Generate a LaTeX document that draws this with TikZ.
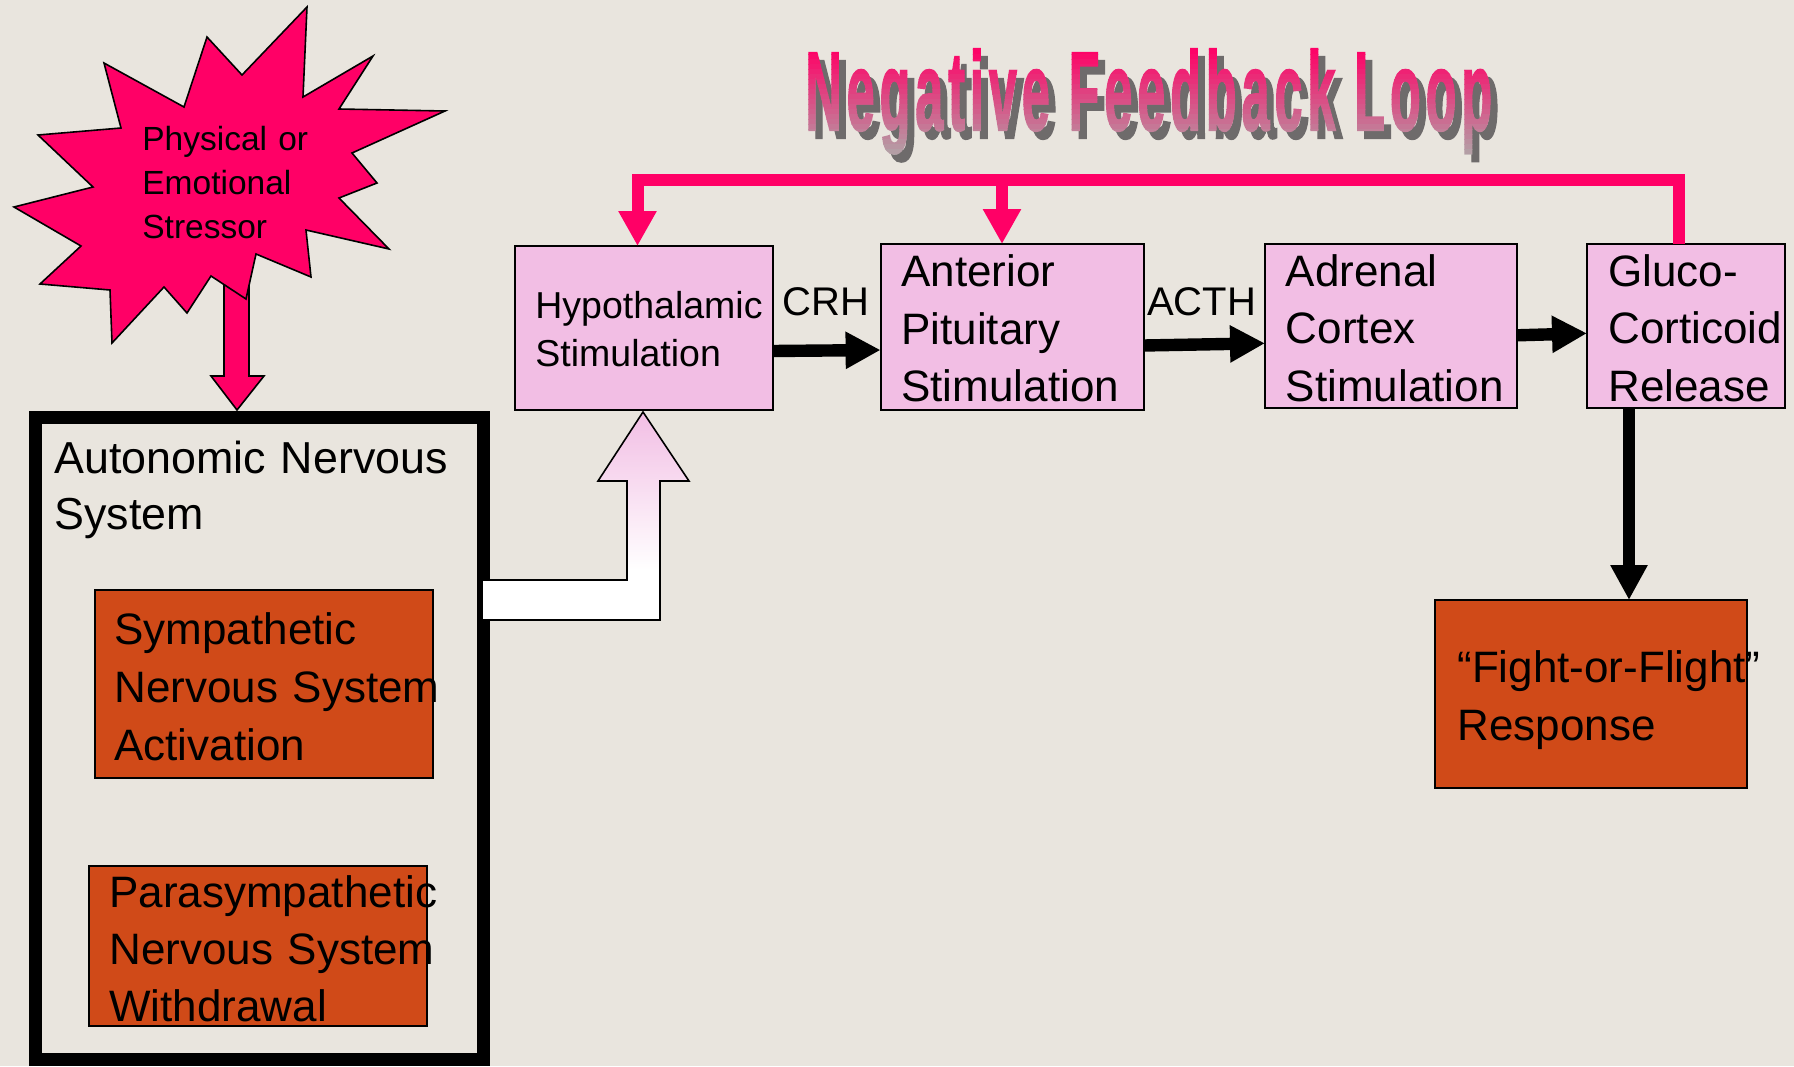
\documentclass[tikz,border=0pt]{standalone}
\usepackage{fontspec}
\setmainfont{Liberation Sans}
\newfontfamily\titlefont[FakeBold=2,LetterSpace=10]{Liberation Sans Bold}
\usepackage{graphicx}
\usetikzlibrary{arrows.meta}

\definecolor{bg}{HTML}{E9E5DE}
\definecolor{hotpink}{HTML}{FF0066}
\definecolor{boxpink}{HTML}{F2BEE4}
\definecolor{rust}{HTML}{D04A18}
\definecolor{shadowgray}{HTML}{6E6B6B}
\definecolor{fadegray}{HTML}{AEAAAA}

\newcommand{\titlestring}{\scalebox{0.449}[1]{Negative Feedback Loop}}

\tikzset{
  plainbox/.style={draw=black, line width=1pt, inner sep=0pt, outer sep=0pt},
  pinkbox/.style={plainbox, fill=boxpink},
  rustbox/.style={plainbox, fill=rust},
  txt/.style={inner sep=0pt, anchor=base west, text width=400pt, align=left},
  bodytext/.style={txt, font=\fontsize{22pt}{28.75pt}\selectfont},
  hormone/.style={inner sep=0pt, anchor=base west, font=\fontsize{20pt}{24pt}\selectfont},
  titletext/.style={inner sep=0pt, anchor=base west, font=\titlefont\fontsize{55.9pt}{60pt}\selectfont},
  flow/.style={draw=black, line width=6.2pt, -{Triangle[length=17.5pt,width=17.5pt]}},
  feedback/.style={draw=hotpink, line width=6pt, line join=miter, -{Triangle[length=17.5pt,width=18pt]}},
  outline/.style={draw=black, line width=0.8pt},
}

\begin{document}
\begin{tikzpicture}[x=0.5pt,y=-0.5pt]
% canvas
\fill[bg] (0,0) rectangle (1794,1066);
\useasboundingbox (0,0) rectangle (1794,1066);

% ---- heading with drop shadow; the letters fade from pink to grey in thin bands ----
\node[titletext, text=shadowgray] (titleshadow) at (812,138) {\titlestring};
\foreach \i in {0,...,25} {
  \pgfmathsetmacro\ya{44+\i*5}
  \pgfmathsetmacro\yb{\ya+5.4}
  \pgfmathtruncatemacro\pc{max(0,min(100,100-(\ya+2.5-50)/110*100))}
  \begin{scope}
    \clip (790,\ya) rectangle (1530,\yb);
    \node[titletext, text=hotpink!\pc!fadegray] (title\i) at (805,130) {\titlestring};
  \end{scope}
}

% ---- stressor burst with its block arrow ----
\filldraw[fill=hotpink, outline]
  (224,265) -- (224,376) -- (211,376) -- (237,410) -- (264,376) -- (249,376) -- (249,265) -- cycle;
\filldraw[fill=hotpink, outline]
  (307,7) -- (303,97) -- (373,56) -- (339,109) -- (445,111) -- (352,153) -- (377,183) --
  (339,198) -- (389,249) -- (306,230) -- (311,277) -- (256,254) -- (246,299) -- (211,276) --
  (187,313) -- (164,287) -- (112,343) -- (110,290) -- (40,284) -- (81,246) -- (14,207) --
  (93,187) -- (38,135) -- (121,128) -- (104,63) -- (184,107) -- (207,37) -- (242,75) -- cycle;
\node[txt, font=\fontsize{16.75pt}{22pt}\selectfont] (stressor) at (142,150)
  {Physical or\\Emotional\\Stressor};

% ---- boxes ----
\node[draw=black, line width=6.5pt, inner sep=0pt, outer sep=0pt,
      minimum width=224pt, minimum height=320.75pt] (ans) at (259,738.25) {};
\node[rustbox, minimum width=169pt, minimum height=94pt] (symp) at (264,684) {};
\node[rustbox, minimum width=169pt, minimum height=80pt] (para) at (258,946) {};

\node[pinkbox, minimum width=129.15pt, minimum height=82pt] (hyp) at (643.65,328) {};
\node[pinkbox, minimum width=131.45pt, minimum height=83pt] (ant) at (1012.05,327) {};
\node[pinkbox, minimum width=126pt, minimum height=82pt] (adr) at (1391,326) {};
\node[pinkbox, minimum width=99pt, minimum height=82pt] (glu) at (1686,326) {};
\node[rustbox, minimum width=156pt, minimum height=94pt] (fight) at (1591,694) {};

% ---- box texts ----
\node[txt, font=\fontsize{22.4pt}{28.3pt}\selectfont] (anstext) at (54,473)
  {Autonomic Nervous\\System};
\node[bodytext, font=\fontsize{22pt}{29pt}\selectfont] (symptext) at (114,644)
  {Sympathetic\\Nervous System\\Activation};
\node[bodytext, font=\fontsize{22pt}{28.5pt}\selectfont] (paratext) at (109,907)
  {Parasympathetic\\Nervous System\\Withdrawal};
\node[txt, font=\fontsize{18.75pt}{24pt}\selectfont] (hyptext) at (535,318)
  {Hypothalamic\\Stimulation};
\node[bodytext] (anttext) at (901,286.7) {Anterior\\Pituitary\\Stimulation};
\node[bodytext] (adrtext) at (1285.5,286) {Adrenal\\Cortex\\Stimulation};
\node[bodytext] (glutext) at (1608,286) {Gluco-\\Corticoid\\Release};
\node[bodytext, font=\fontsize{22pt}{29pt}\selectfont] (fighttext) at (1457,682.7)
  {“Fight-or-Flight”\\Response};

\node[hormone] (crh) at (782,315) {CRH};
\node[hormone] (acth) at (1146.7,315) {ACTH};

% ---- hollow arrow from the autonomic system up to the hypothalamus ----
\path[fill=white] (ans.east |- 0,580) -- (627,580) -- (627,481) -- (598,481) -- (643,412) --
  (689,481) -- (660,481) -- (660,620) -- (ans.east |- 0,620) -- cycle;
\begin{scope}
  \clip (ans.east |- 0,580) -- (627,580) -- (627,481) -- (598,481) -- (643,412) --
    (689,481) -- (660,481) -- (660,620) -- (ans.east |- 0,620) -- cycle;
  \shade[top color=boxpink, bottom color=white] (590,412) rectangle (700,570);
\end{scope}
\draw[outline] (ans.east |- 0,580) -- (627,580) -- (627,481) -- (598,481) -- (643,412) --
  (689,481) -- (660,481) -- (660,620) -- (ans.east |- 0,620);

% ---- hormonal cascade ----
\draw[flow] ([yshift=-11.5pt]hyp.east) -- ([yshift=-11.5pt]ant.west);
\draw[flow] ([yshift=-9.25pt]ant.east) -- ([yshift=-8.65pt]adr.west);
\draw[flow] ([yshift=-4.65pt]adr.east) -- ([yshift=-3.65pt]glu.west);
\draw[flow] ([xshift=-28.5pt]glu.south) -- ([xshift=19pt]fight.north);

% ---- negative feedback ----
\coordinate (fbR) at (1679,180);
\coordinate (fbM) at (1002,180);
\coordinate (fbL) at (637.5,180);
\draw[feedback] (glu.north -| fbR) -- (fbR) -- (fbL) -- (hyp.north -| fbL);
\draw[feedback] (fbM) -- (ant.north -| fbM);
\end{tikzpicture}
\end{document}
